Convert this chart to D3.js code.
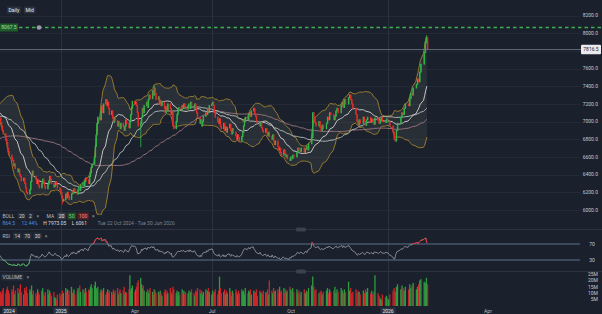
<!DOCTYPE html>
<html>
<head>
<meta charset="utf-8">
<script src="https://cdn.jsdelivr.net/npm/d3@7"></script>
<style>
body { margin: 0; background: #1b212c; }
svg { display: block; font-family: Roboto, "DejaVu Sans", sans-serif; }
</style>
</head>
<body>
<svg id="chart" width="602" height="314"></svg>
<script>
// ~100 sessions before the visible window, only used to warm up MA / BOLL / RSI
var priorCloses = [
    6420, 6450, 6400, 6380, 6430, 6470, 6440, 6480, 6500, 6460, 6420, 6450, 6490, 6510, 6470, 6440, 6480, 6520, 6550, 6510, 6490, 6530, 6560, 6520, 6500,
    6540, 6580, 6560, 6600, 6570, 6550, 6590, 6620, 6600, 6580, 6610, 6640, 6620, 6590, 6560, 6530, 6570, 6600, 6630, 6660, 6700, 6740, 6780, 6760, 6800,
    6850, 6900, 6940, 6980, 7000, 6960, 6990, 7030, 7010, 6980, 7020, 7050, 7030, 7000, 7040, 7070, 7050, 7020, 7060, 7080, 7050, 7030, 7070, 7100, 7080, 7050, 7090, 7110, 7080, 7060,
    7080, 7120, 7150, 7100, 7060, 7110, 7160, 7180, 7140, 7100, 7070, 7120, 7170, 7150, 7110, 7080, 7050, 7030, 7010, 7040
];

// daily closes, 22 Oct 2024 -> 5 Feb 2026 (weekdays)
var closes = [
    // Oct 24
    6990, 6950, 6900, 6860, 6800, 6760, 6700, 6660,
    // Nov 24
    6620, 6580, 6560, 6500, 6520, 6470, 6430, 6460, 6400, 6380, 6330, 6360, 6300, 6250, 6200, 6180, 6230, 6320, 6400, 6440, 6380,
    // Dec 24
    6350, 6300, 6340, 6280, 6250, 6300, 6350, 6320, 6270, 6240, 6290, 6330, 6380, 6350, 6300, 6260, 6280, 6320, 6290, 6250, 6230, 6200,
    // Jan 25
    6150, 6100, 6120, 6180, 6140, 6200, 6160, 6120, 6180, 6220, 6190, 6240, 6210, 6180, 6230, 6260, 6220, 6280, 6310, 6270, 6320, 6360, 6340,
    // Feb 25
    6300, 6380, 6420, 6480, 6520, 6600, 6720, 6850, 6980, 7050, 7020, 7120, 7180, 7100, 7200, 7250, 7180, 7220, 7150, 7080,
    // Mar 25
    7120, 7040, 6990, 7050, 7010, 6950, 7000, 6960, 6920, 6980, 6940, 6900, 6950, 7020, 6980, 6930, 7000, 7080, 7150, 7230, 7200,
    // Apr 25
    7220, 7180, 7100, 6950, 6980, 7050, 7150, 7100, 7180, 7220, 7160, 7250, 7300, 7260, 7350, 7300, 7380, 7320, 7250, 7280, 7200, 7240,
    // May 25
    7180, 7220, 7150, 7100, 7170, 7130, 7200, 7150, 7080, 7120, 6950, 6920, 7000, 7080, 7120, 7160, 7130, 7180, 7150, 7200, 7170, 7140,
    // Jun 25
    7180, 7200, 7150, 7220, 7180, 7150, 7200, 7160, 7100, 7050, 6980, 7020, 6950, 7000, 7060, 7100, 7080, 7150, 7120, 7180, 7200,
    // Jul 25
    7220, 7180, 7100, 7050, 7000, 6980, 7030, 6950, 6920, 6980, 6900, 6940, 6880, 6930, 6970, 6900, 6860, 6920, 6880, 6840, 6800, 6850, 6820,
    // Aug 25
    6780, 6830, 6880, 6950, 7000, 7050, 7020, 7080, 7100, 7060, 7120, 7150, 7090, 7060, 7010, 6980, 6950, 6990, 6930, 6900, 6880,
    // Sep 25
    6920, 6870, 6840, 6880, 6830, 6800, 6850, 6780, 6740, 6780, 6720, 6680, 6700, 6650, 6620, 6680, 6640, 6600, 6620, 6580, 6560, 6600,
    // Oct 25
    6580, 6620, 6600, 6650, 6700, 6680, 6660, 6700, 6650, 6690, 6720, 6680, 6750, 6820, 7100, 7050, 6990, 6950, 7000, 6930, 6900, 6960, 6920,
    // Nov 25
    6980, 7050, 7020, 7100, 7080, 7020, 7060, 7120, 7150, 7100, 7180, 7220, 7160, 7250, 7200, 7270, 7300, 7250, 7200, 7150,
    // Dec 25
    7080, 7000, 6960, 7020, 6980, 7050, 7000, 6960, 7020, 7050, 6990, 7030, 7000, 6970, 7040, 7010, 6980, 7020, 7050, 7000, 6990, 7030, 7000,
    // Jan 26
    7000, 6950, 6880, 6800, 6780, 6900, 6980, 7050, 7100, 7080, 7150, 7200, 7180, 7260, 7320, 7300, 7380, 7420, 7480, 7450, 7560, 7650,
    // Feb 26
    7780, 7900, 7950, 7816.5
];

// volume, millions
var volumes = [
    11, 9, 12, 14, 10, 13, 15, 12,
    10, 13, 11, 16, 9, 12, 14, 10, 13, 17, 11, 9, 14, 12, 15, 10, 13, 11, 16, 9, 12,
    10, 8, 13, 11, 9, 12, 14, 10, 8, 11, 13, 9, 12, 10, 8, 11, 7, 6, 5, 9, 10, 8,
    9, 12, 10, 14, 11, 13, 9, 12, 15, 10, 11, 13, 9, 12, 14, 10, 16, 11, 13, 12, 10, 14, 11,
    13, 12, 15, 17, 14, 16, 19, 14, 12, 15, 11, 13, 10, 12, 14, 9, 11, 13, 10, 12,
    11, 9, 13, 10, 12, 14, 9, 11, 13, 10, 12, 15, 9, 11, 10, 13, 24, 12, 14, 16, 11,
    13, 15, 18, 20, 22, 17, 14, 16, 12, 11, 13, 10, 12, 14, 11, 9, 13, 12, 10, 11, 9, 12,
    10, 8, 11, 13, 9, 12, 10, 14, 11, 9, 15, 13, 10, 12, 8, 11, 9, 13, 10, 12, 9, 11,
    10, 12, 9, 11, 13, 10, 8, 12, 11, 14, 13, 10, 12, 9, 11, 13, 10, 12, 14, 11, 9,
    12, 10, 11, 13, 9, 12, 23, 14, 10, 11, 13, 9, 12, 10, 14, 11, 8, 12, 10, 13, 11, 9, 12,
    10, 13, 11, 12, 9, 14, 10, 12, 11, 13, 9, 12, 10, 11, 13, 8, 12, 10, 11, 9, 12,
    11, 10, 13, 9, 20, 12, 10, 14, 11, 12, 13, 10, 15, 11, 12, 14, 10, 13, 11, 12, 15, 13,
    12, 14, 11, 13, 10, 12, 9, 11, 13, 10, 12, 11, 14, 16, 23, 15, 12, 13, 10, 11, 12, 9, 11,
    12, 14, 10, 13, 11, 12, 15, 10, 13, 11, 14, 12, 10, 13, 11, 19, 12, 14, 10, 11,
    13, 10, 12, 11, 9, 12, 10, 13, 11, 14, 10, 12, 9, 11, 24, 10, 8, 6, 5, 9, 7, 8, 6,
    5, 9, 12, 14, 11, 15, 17, 13, 16, 14, 12, 15, 13, 17, 14, 16, 18, 13, 15, 17, 20, 21,
    19, 18, 22, 17
];

// intraday extremes that stand out from the bodies
var wicks = [
    { date: '2025-01-02', high: 6160, low: 6061 },
    { date: '2025-04-07', high: 7010, low: 6710 },
    { date: '2025-04-23', high: 7410, low: 7300 },
    { date: '2026-02-04', high: 7973.05, low: 7880 }
];

var priceTicks = [8200, 8000, 7800, 7600, 7400, 7200, 7000, 6800, 6600, 6400, 6200, 6000];
var volTicks = [5, 10, 15, 20, 25];
var rsiLevels = [70, 30];
var timeTicks = [
    { date: '2024-10-22', label: '2024', year: true, left: true },
    { date: '2025-01-01', label: '2025', year: true },
    { date: '2025-04-01', label: 'Apr' },
    { date: '2025-07-01', label: 'Jul' },
    { date: '2025-10-01', label: 'Oct' },
    { date: '2026-01-01', label: '2026', year: true },
    { date: '2026-04-01', label: 'Apr' }
];
var gridDates = ['2025-01-01', '2025-07-01', '2026-01-01'];
var lastPrice = 7816.5;
var alertLevel = 8067.5;

var width = 602;
var height = 314;
var plotRight = 580;
var parseDate = d3.timeParse('%Y-%m-%d');

var svg = d3.select('#chart');
svg.append('rect').attr('width', width).attr('height', height).attr('fill', '#1b212c');

// x: piecewise time scale
const xscale = d3.scaleTime()
    .domain(['2024-10-22', '2025-01-01', '2025-04-01', '2025-07-01', '2025-10-01', '2026-01-01', '2026-04-01', '2026-06-30'].map(parseDate))
    .range([0, 61, 135, 212, 291, 388, 488, 580]);

const yprice = d3.scaleLinear().domain([6000, 8200]).range([210, 15.5]);
const yrsi = d3.scaleLinear().domain([0, 100]).range([272, 232]);
const yvol = d3.scaleLinear().domain([0, 25]).range([306, 274]);

// build candles
var days = d3.timeDay.range(new Date(2024, 9, 22), new Date(2026, 1, 6)).filter(d => d.getDay() % 6 !== 0);
var n = Math.min(days.length, closes.length, volumes.length);
var all = priorCloses.concat(closes);
var off = priorCloses.length;
var data = [];
for (let i = 0; i < n; i++) {
    let k = off + i;
    let o = all[k - 1], c = all[k];
    data.push({ date: days[i], k: k, open: o, close: c, high: Math.max(o, c), low: Math.min(o, c), vol: volumes[i] });
}
wicks.forEach(w => {
    let t = +parseDate(w.date);
    let d = data.find(e => +e.date === t);
    if (d) { d.high = Math.max(d.high, w.high); d.low = Math.min(d.low, w.low); }
});

// indicators
function sma(k, p) { return d3.mean(all.slice(k - p + 1, k + 1)); }
function sdev(k, p) {
    let s = all.slice(k - p + 1, k + 1), m = d3.mean(s);
    return Math.sqrt(d3.mean(s, v => (v - m) * (v - m)));
}
data.forEach(d => {
    d.ma20 = sma(d.k, 20);
    d.ma50 = sma(d.k, 50);
    d.ma100 = sma(d.k, 100);
    let s = sdev(d.k, 20);
    d.bbU = d.ma20 + 2 * s;
    d.bbL = d.ma20 - 2 * s;
});
var rsi = [];
var ag = 0, al = 0;
for (let k = 1; k < all.length; k++) {
    let ch = all[k] - all[k - 1];
    let g = Math.max(ch, 0), l = Math.max(-ch, 0);
    if (k <= 14) { ag += g / 14; al += l / 14; }
    else { ag = (ag * 13 + g) / 14; al = (al * 13 + l) / 14; }
    rsi[k] = al === 0 ? 100 : 100 - 100 / (1 + ag / al);
}
data.forEach(d => { d.rsi = rsi[d.k]; });

// clip paths
var defs = svg.append('defs');
defs.append('clipPath').attr('id', 'clipPrice').append('rect').attr('x', 0).attr('y', 0).attr('width', plotRight).attr('height', 228);
defs.append('clipPath').attr('id', 'clipHigh').append('rect').attr('x', 0).attr('y', 0).attr('width', plotRight).attr('height', yrsi(70));
defs.append('clipPath').attr('id', 'clipLow').append('rect').attr('x', 0).attr('y', yrsi(30)).attr('width', plotRight).attr('height', 20);

// grid
var grid = svg.append('g');
grid.selectAll('line.h')
    .data(priceTicks)
    .join('line')
    .attr('x1', 0).attr('x2', plotRight)
    .attr('y1', d => Math.round(yprice(d)) + 0.5).attr('y2', d => Math.round(yprice(d)) + 0.5)
    .attr('stroke', '#232a36').attr('stroke-width', 1);
grid.selectAll('line.v')
    .data(gridDates.map(parseDate))
    .join('line')
    .attr('x1', d => Math.round(xscale(d)) + 0.5).attr('x2', d => Math.round(xscale(d)) + 0.5)
    .attr('y1', 0).attr('y2', 307)
    .attr('stroke', '#2a3240').attr('stroke-width', 1);

// panel separators
[229, 271].forEach(y => {
    svg.append('line').attr('x1', 0).attr('x2', width).attr('y1', y + 0.5).attr('y2', y + 0.5)
        .attr('stroke', '#2c3444').attr('stroke-width', 1);
    svg.append('rect').attr('x', 296).attr('y', y - 1.5).attr('width', 10).attr('height', 4).attr('rx', 1.5)
        .attr('fill', '#3a4250');
});

// price panel
var price = svg.append('g').attr('clip-path', 'url(#clipPrice)');

price.append('path')
    .datum(data)
    .attr('d', d3.area().x(d => xscale(d.date)).y0(d => yprice(d.bbL)).y1(d => yprice(d.bbU)))
    .attr('fill', 'rgba(190,190,170,0.09)');

[['bbU', '#a3812c'], ['bbL', '#a3812c'], ['ma100', '#a27780'], ['ma50', '#b4c2bb'], ['ma20', '#d6d6d6']].forEach(p => {
    price.append('path')
        .datum(data)
        .attr('d', d3.line().x(d => xscale(d.date)).y(d => yprice(d[p[0]])))
        .attr('fill', 'none')
        .attr('stroke', p[1])
        .attr('stroke-width', 0.9);
});

var up = '#32b44a', down = '#e22b2b';
price.selectAll('line.wick')
    .data(data)
    .join('line')
    .attr('x1', d => xscale(d.date) + 0.7)
    .attr('x2', d => xscale(d.date) + 0.7)
    .attr('y1', d => yprice(d.high))
    .attr('y2', d => yprice(d.low))
    .attr('stroke', d => d.close >= d.open ? up : down)
    .attr('stroke-width', 0.8);
price.selectAll('rect.body')
    .data(data)
    .join('rect')
    .attr('x', d => xscale(d.date))
    .attr('y', d => yprice(Math.max(d.open, d.close)) - 0.5)
    .attr('width', 1.4)
    .attr('height', d => Math.abs(yprice(d.open) - yprice(d.close)) + 1)
    .attr('fill', d => d.close >= d.open ? up : down);

// alert level
var ya = Math.round(yprice(alertLevel)) + 0.5;
svg.append('line').attr('x1', 19).attr('x2', width).attr('y1', ya).attr('y2', ya)
    .attr('stroke', '#3bb04c').attr('stroke-width', 1.3).attr('stroke-dasharray', '3.5,3');
svg.append('rect').attr('x', 0).attr('y', ya - 4).attr('width', 18).attr('height', 8).attr('fill', '#1f5a29');
svg.append('text').attr('x', 9).attr('y', ya + 1.8).attr('text-anchor', 'middle')
    .attr('font-size', 5).attr('fill', '#9fe09f').text(alertLevel.toFixed(1));
svg.append('circle').attr('cx', 39).attr('cy', ya).attr('r', 2.3).attr('fill', '#9a9ea4');

// last price
var yl = Math.round(yprice(lastPrice)) + 0.5;
svg.append('line').attr('x1', 0).attr('x2', 581).attr('y1', yl).attr('y2', yl)
    .attr('stroke', '#707884').attr('stroke-width', 0.8);

// price labels
svg.selectAll('text.pl')
    .data(priceTicks.filter(v => Math.abs(yprice(v) - yprice(lastPrice)) > 6))
    .join('text')
    .attr('x', 598).attr('y', d => yprice(d) + 1.8)
    .attr('text-anchor', 'end')
    .attr('font-size', 5).attr('fill', '#c3c8d0')
    .text(d => d.toFixed(1));
svg.append('rect').attr('x', 581).attr('y', yl - 4.8).attr('width', 20).attr('height', 9.5).attr('rx', 1)
    .attr('fill', '#e8eaed');
svg.append('text').attr('x', 591).attr('y', yl + 1.8).attr('text-anchor', 'middle')
    .attr('font-size', 5).attr('fill', '#222').text(lastPrice.toFixed(1));

// RSI panel
var rsiLine = d3.line().x(d => xscale(d.date)).y(d => yrsi(d.rsi));
rsiLevels.forEach(v => {
    svg.append('line').attr('x1', 0).attr('x2', plotRight).attr('y1', yrsi(v)).attr('y2', yrsi(v))
        .attr('stroke', '#5d7089').attr('stroke-width', 1);
    svg.append('text').attr('x', 592).attr('y', yrsi(v) + 1.8).attr('text-anchor', 'middle')
        .attr('font-size', 5).attr('fill', '#c3c8d0').text(v);
});
svg.append('path').datum(data).attr('d', rsiLine)
    .attr('fill', 'none').attr('stroke', '#9aa0a8').attr('stroke-width', 0.8);
svg.append('path').datum(data).attr('d', rsiLine).attr('clip-path', 'url(#clipHigh)')
    .attr('fill', 'none').attr('stroke', '#e03434').attr('stroke-width', 1);
svg.append('path').datum(data).attr('d', rsiLine).attr('clip-path', 'url(#clipLow)')
    .attr('fill', 'none').attr('stroke', '#3cae4c').attr('stroke-width', 1);

// volume panel
svg.selectAll('rect.vol')
    .data(data)
    .join('rect')
    .attr('x', d => xscale(d.date))
    .attr('y', d => yvol(d.vol))
    .attr('width', 1.3)
    .attr('height', d => yvol(0) - yvol(d.vol))
    .attr('fill', d => d.close >= d.open ? '#2f9c3f' : '#c9262a');
svg.selectAll('text.vl')
    .data(volTicks)
    .join('text')
    .attr('x', 598).attr('y', d => yvol(d) + 1.8)
    .attr('text-anchor', 'end')
    .attr('font-size', 5).attr('fill', '#c3c8d0')
    .text(d => d + 'M');

// time axis
timeTicks.forEach(t => {
    let x = t.left ? 2 : xscale(parseDate(t.date));
    let g = svg.append('g');
    let txt = g.append('text').attr('y', 313).attr('font-size', 5)
        .attr('fill', t.year ? '#e6e8eb' : '#b8bec8')
        .attr('text-anchor', t.left ? 'start' : 'middle')
        .attr('x', t.left ? x + 1.5 : x)
        .text(t.label);
    if (t.year) {
        let w = txt.node().getComputedTextLength() + 4;
        g.insert('rect', 'text')
            .attr('x', t.left ? x : x - w / 2).attr('y', 307.5).attr('width', w).attr('height', 7.5)
            .attr('fill', '#2c3340');
    }
});

// small tag helper for legends / buttons
function tag(x, y, label, bg, fg) {
    let g = svg.append('g');
    let t = g.append('text').attr('x', x + 1.5).attr('y', y).attr('font-size', 5).attr('fill', fg).text(label);
    let w = t.node().getComputedTextLength() + 3;
    if (bg) g.insert('rect', 'text').attr('x', x).attr('y', y - 5).attr('width', w).attr('height', 7).attr('rx', 1).attr('fill', bg);
    return x + w + 1.5;
}

// top buttons
tag(7, 11.5, 'Daily', '#2b323e', '#e8eaed');
tag(24, 11.5, 'Mid', '#2b323e', '#e8eaed');

// BOLL / MA legend
var lx = tag(1, 217.5, 'BOLL', null, '#b6bcc6');
lx = tag(lx, 217.5, '20', '#262d39', '#d0d4da');
lx = tag(lx, 217.5, '2', '#262d39', '#d0d4da');
lx = tag(lx, 217.5, '×', null, '#9aa0a8');
lx = tag(lx + 3, 217.5, 'MA', null, '#b6bcc6');
lx = tag(lx, 217.5, '20', '#363c46', '#e6e6e6');
lx = tag(lx, 217.5, '50', '#1f4d28', '#6fd07a');
lx = tag(lx, 217.5, '100', '#5a1f22', '#f08a8a');
tag(lx, 217.5, '×', null, '#9aa0a8');

lx = tag(1, 225, '864.5', null, '#4a8fe0');
lx = tag(lx + 2, 225, '12.44%', null, '#4a8fe0');
lx = tag(lx + 1, 225, 'H 7973.05', null, '#d8dce2');
lx = tag(lx + 1, 225, 'L 6061', null, '#d8dce2');
tag(lx + 6, 225, 'Tue 22 Oct 2024 - Tue 30 Jun 2026', null, '#7b838f');

// RSI legend
lx = tag(1, 237.5, 'RSI', null, '#b6bcc6');
lx = tag(lx, 237.5, '14', '#262d39', '#d0d4da');
lx = tag(lx, 237.5, '70', '#262d39', '#d0d4da');
lx = tag(lx, 237.5, '30', '#262d39', '#d0d4da');
tag(lx, 237.5, '×', null, '#9aa0a8');

// volume legend
lx = tag(1, 278.5, 'VOLUME', '#262d39', '#b6bcc6');
tag(lx, 278.5, '×', null, '#9aa0a8');
</script>
</body>
</html>
